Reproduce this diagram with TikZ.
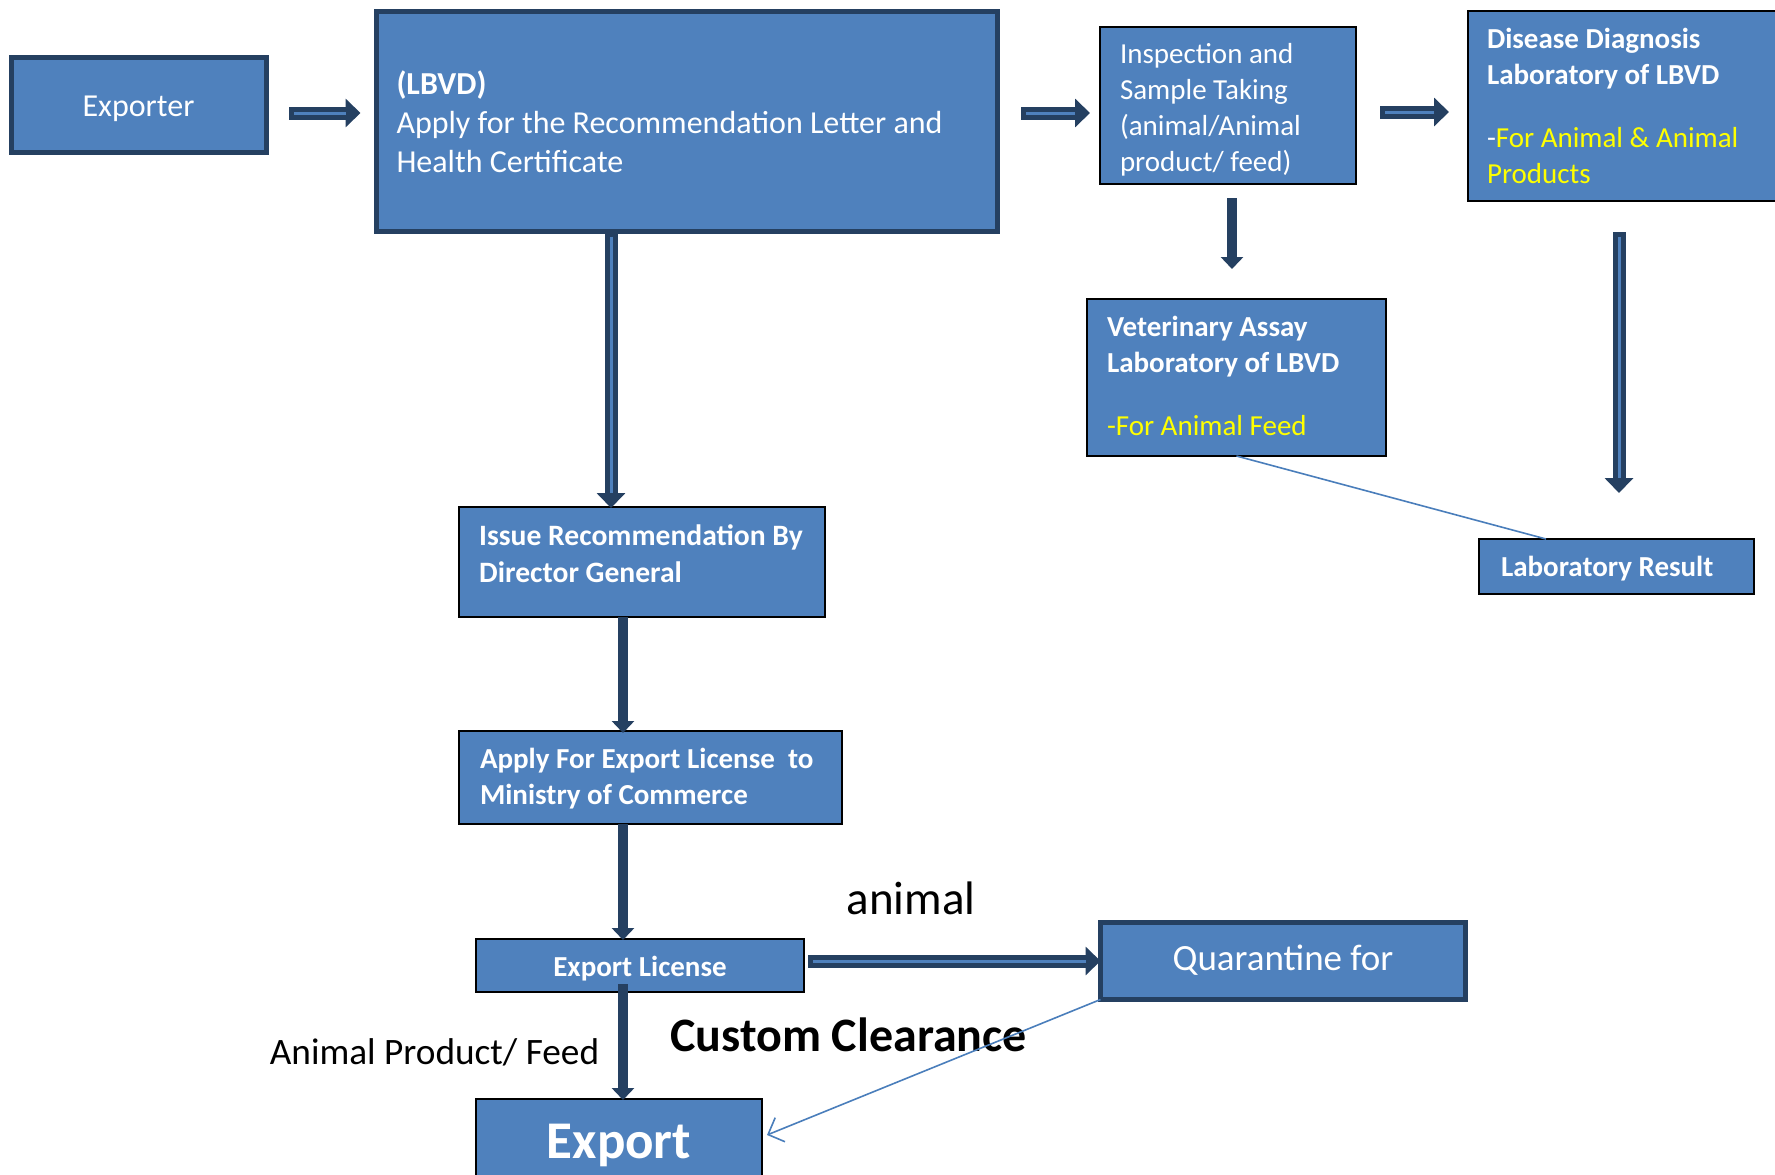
\documentclass[tikz,border=0pt]{standalone}
\usepackage{fontspec}
\setmainfont{Carlito}
\usetikzlibrary{arrows.meta,calc}
\definecolor{boxblue}{HTML}{4F81BD}
\definecolor{navy}{HTML}{254061}
\definecolor{linkblue}{HTML}{4A7EBB}
\definecolor{hiyellow}{HTML}{FFFF00}
\newcommand\myfs[2]{\fontsize{#1}{#2}\selectfont}
\newcommand\lowr[2]{\raisebox{-#1}[\height][\depth]{#2}}
\begin{document}
\begin{tikzpicture}[x=1pt,y=-1pt,
  box/.style={draw=black, line width=2pt, fill=boxblue, text=white, inner ysep=0pt, outer sep=0pt},
  thickbox/.style={box, draw=navy, line width=5pt},
  txt/.style={font=\myfs{29}{36}},
  btxt/.style={font=\bfseries\myfs{29}{36}},
  dblarrow/.style={draw=navy, line width=13pt, -{Triangle[length=15pt,width=28pt]},
     postaction={draw=boxblue, line width=3pt, -, shorten <=5pt, shorten >=15pt}},
  onearrow/.style={draw=navy, line width=10.5pt, -{Triangle[length=12pt,width=22pt]}},
  link/.style={draw=linkblue, line width=1.6pt},
  lbl/.style={text=black, inner sep=0pt}
]
\clip (0,0) rectangle (1775,1175);
\fill[white] (0,0) rectangle (1775,1175);

% boxes
\node[thickbox, minimum width=255pt, minimum height=95pt, font=\myfs{32}{39}] (exporter) at (138.5,104.5) {\lowr{4.5pt}{Exporter}};
\node[thickbox, minimum width=621pt, minimum height=220pt, text width=581pt, inner xsep=20pt, align=flush left, font=\myfs{32}{39}] (lbvd) at (687,121.5)
  {\textbf{(LBVD)}\\Apply for the Recommendation Letter and\\Health Certificate};
\node[box, txt, minimum width=256pt, minimum height=157pt, text width=216pt, inner xsep=20pt, align=flush left, text depth=105pt] (insp) at (1228,105.5)
  {Inspection and\\Sample Taking\\(animal/Animal\\product/ feed)};
\node[box, txt, line width=2.5pt, minimum width=332pt, minimum height=190pt, text width=294pt, inner xsep=19pt, align=flush left] (disease) at (1634,106)
  {\textbf{Disease Diagnosis}\\\textbf{Laboratory of LBVD}\\[27pt]-\textcolor{hiyellow}{For Animal \& Animal}\\\textcolor{hiyellow}{Products}};
\node[box, txt, minimum width=299pt, minimum height=157pt, text width=259pt, inner xsep=20pt, align=flush left, text depth=103pt] (vet) at (1236.5,377.5)
  {\textbf{Veterinary Assay}\\\textbf{Laboratory of LBVD}\\[27pt]\textcolor{hiyellow}{-For Animal Feed}};
\node[box, btxt, minimum width=275pt, minimum height=55pt, text width=231pt, inner xsep=22pt, align=flush left] (labres) at (1616.5,566.5)
  {\lowr{2.3pt}{Laboratory Result}};
\node[box, minimum width=366pt, minimum height=110pt] (issue) at (642,562) {};
\node[text=white, anchor=west, inner sep=0pt, align=flush left, font=\bfseries\myfs{29.6}{36.5}] (issuetxt) at (479,553.5)
  {Issue Recommendation By\\Director General};
\node[box, btxt, minimum width=383pt, minimum height=93pt, text width=341pt, inner xsep=21pt, align=flush left, text depth=39pt] (apply) at (650.5,777.5)
  {\mbox{Apply For Export License\ \ to}\\Ministry of Commerce};
\node[box, btxt, minimum width=328pt, minimum height=53pt] (explic) at (640,965.5) {\lowr{3.4pt}{Export License}};
\node[thickbox, minimum width=365pt, minimum height=77pt, font=\myfs{37}{44}] (quar) at (1283,961) {\lowr{-1pt}{Quarantine for}};
\node[box, minimum width=286pt, minimum height=84pt, font=\bfseries\myfs{53}{60}] (export) at (619,1141) {\lowr{4.5pt}{Export}};

% free labels
\node[lbl, font=\myfs{47}{56}] (animal) at (911,898) {animal};
\node[lbl, font=\bfseries\myfs{48}{57}] (custom) at (848.5,1035) {Custom Clearance};
\node[lbl, font=\myfs{37.3}{44}] (apf) at (434.5,1052) {Animal Product/ Feed};

% connectors
\draw[dblarrow] ($(exporter.east |- 0,113)+(23,0)$) -- ($(lbvd.west |- 0,113)+(-16,0)$);
\draw[dblarrow] ($(lbvd.east |- 0,113)+(23.5,0)$) -- ($(insp.west |- 0,113)+(-10,0)$);
\draw[dblarrow] ($(insp.east |- 0,112)+(24,0)$) -- ($(disease.west |- 0,112)+(-19,0)$);
\draw[onearrow] ($(insp.south -| 1232,0)+(0,14)$) -- ($(vet.north -| 1232,0)+(0,-30)$);
\draw[dblarrow] ($(disease.south -| 1619,0)+(0,31)$) -- ($(labres.north -| 1619,0)+(0,-46)$);
\draw[link] (vet.south) -- ([xshift=67pt]labres.north west);
\draw[dblarrow] (lbvd.south -| 611,0) -- ($(issue.north -| 611,0)+(0,1)$);
\draw[onearrow] (issue.south -| 623,0) -- ($(apply.north -| 623,0)+(0,2)$);
\draw[onearrow] (apply.south -| 623,0) -- ($(explic.north -| 623,0)+(0,1)$);
\draw[dblarrow] ($(explic.east |- 0,961)+(4,0)$) -- (quar.west |- 0,961);
\draw[onearrow] ($(explic.south -| 623,0)+(0,-8)$) -- ($(export.north -| 623,0)+(0,1)$);
\draw[link, -{Straight Barb[length=13pt,width=26pt]}] (quar.south west) -- ($(export.east |- 0,1135)+(5,0)$);
\end{tikzpicture}
\end{document}
